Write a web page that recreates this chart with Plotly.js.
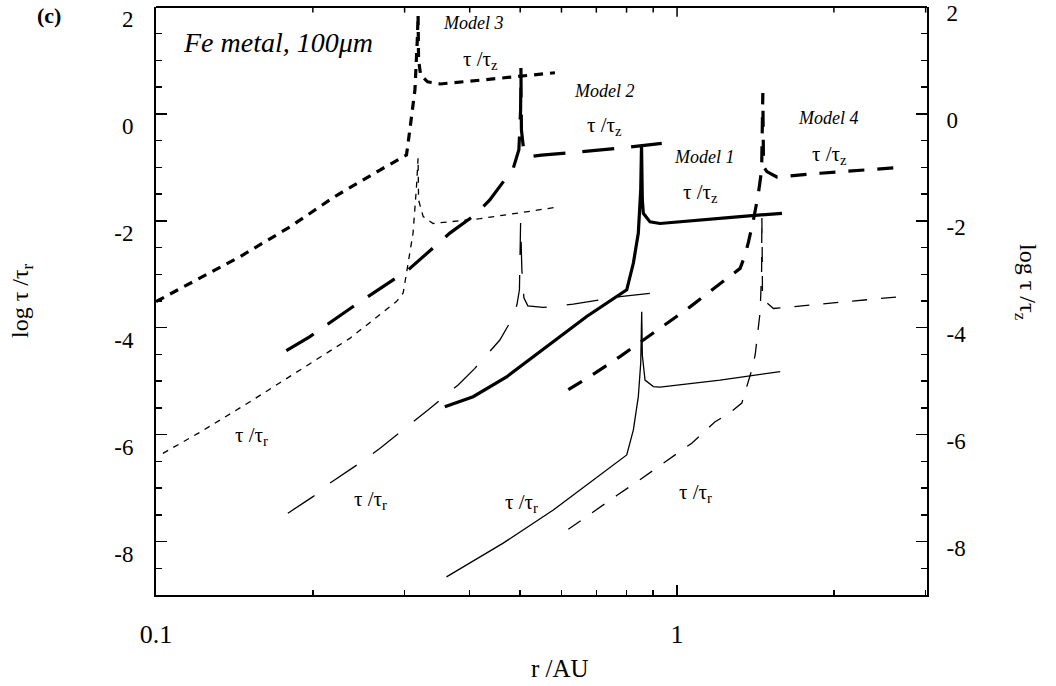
<!DOCTYPE html>
<html>
<head>
<meta charset="utf-8">
<script src="https://cdn.plot.ly/plotly-3.0.1.min.js"></script>
<style>
  html, body { margin: 0; padding: 0; background: #fff; }
  #chart { width: 1056px; height: 686px; }
</style>
</head>
<body>
<div id="chart"></div>
<script>
// Radial distance r (AU) and log τ/τ for each model.
// τ/τ_z curves are the heavy lines, τ/τ_r the thin ones.
const model3_z_r = [0.100, 0.145, 0.181, 0.220, 0.269, 0.3025, 0.307, 0.314, 0.3173, 0.3184, 0.3191, 0.322, 0.332, 0.351, 0.418, 0.499, 0.583];
const model3_z_v = [-3.51, -2.67, -2.11, -1.55, -1.05, -0.77, -0.30, 0.45, 1.38, 1.85, 1.01, 0.73, 0.60, 0.56, 0.63, 0.70, 0.77];

const model3_r_r = [0.1031, 0.1212, 0.1512, 0.1887, 0.2354, 0.2894, 0.2981, 0.3025, 0.3114, 0.3162, 0.3184, 0.3191, 0.3256, 0.3403, 0.4183, 0.4994, 0.5831];
const model3_r_v = [-6.35, -5.96, -5.39, -4.80, -4.20, -3.51, -3.35, -2.98, -2.23, -1.36, -0.83, -1.61, -1.92, -2.05, -1.96, -1.85, -1.75];

const model2_z_r = [0.1779, 0.1971, 0.2442, 0.3047, 0.3664, 0.4092, 0.4371, 0.4672, 0.4848, 0.4971, 0.5009, 0.5016, 0.5027, 0.5082, 0.5218, 0.5495, 0.6368, 0.7945, 0.9346];
const model2_z_v = [-4.43, -4.17, -3.54, -2.92, -2.23, -1.89, -1.61, -1.24, -1.02, -0.67, 0.08, 0.86, -0.30, -0.71, -0.80, -0.77, -0.72, -0.63, -0.55];

const model2_r_r = [0.1791, 0.2001, 0.2154, 0.2479, 0.2688, 0.3069, 0.3327, 0.3800, 0.4092, 0.4570, 0.4813, 0.4928, 0.4983, 0.5009, 0.5037, 0.5082, 0.5172, 0.5533, 0.6321, 0.7771, 0.9387];
const model2_r_v = [-7.47, -7.16, -6.91, -6.51, -6.26, -5.82, -5.54, -5.07, -4.76, -4.23, -3.85, -3.57, -3.29, -2.03, -2.92, -3.44, -3.59, -3.62, -3.56, -3.42, -3.33];

const model1_z_r = [0.3583, 0.4061, 0.4708, 0.5619, 0.6708, 0.8006, 0.8245, 0.8427, 0.8517, 0.8547, 0.8577, 0.8616, 0.8874, 0.9273, 1.107, 1.321, 1.590];
const model1_z_v = [-5.48, -5.29, -4.92, -4.35, -3.79, -3.29, -2.79, -2.23, -1.42, -0.58, -1.61, -1.86, -2.02, -2.05, -1.98, -1.92, -1.86];

const model1_r_r = [0.3610, 0.4638, 0.5787, 0.6906, 0.8006, 0.8245, 0.8427, 0.8517, 0.8554, 0.8577, 0.8680, 0.9006, 0.9274, 1.2097, 1.5775];
const model1_r_v = [-8.66, -8.03, -7.41, -6.85, -6.38, -5.91, -5.29, -4.66, -3.70, -4.51, -4.98, -5.10, -5.11, -4.98, -4.82];

const model4_z_r = [0.6185, 0.6959, 0.7771, 0.8554, 0.9555, 1.0592, 1.1923, 1.3213, 1.3508, 1.3709, 1.4016, 1.4309, 1.4532, 1.4609, 1.4643, 1.4663, 1.4871, 1.5542, 1.8829, 2.2468, 2.6817];
const model4_z_v = [-5.16, -4.85, -4.54, -4.26, -3.92, -3.61, -3.23, -2.89, -2.64, -2.40, -1.98, -1.52, -1.05, 0.39, -0.67, -0.99, -1.08, -1.18, -1.11, -1.06, -1.00];

const model4_r_r = [0.6185, 0.6906, 0.7658, 0.8554, 0.9624, 1.0671, 1.1830, 1.2643, 1.3313, 1.3568, 1.3915, 1.4123, 1.4439, 1.4532, 1.4547, 1.4567, 1.4587, 1.4762, 1.5311, 1.8829, 2.2468, 2.6737];
const model4_r_v = [-7.77, -7.44, -7.14, -6.82, -6.47, -6.16, -5.76, -5.59, -5.41, -5.16, -4.79, -4.51, -3.70, -2.92, -1.91, -2.55, -3.39, -3.51, -3.64, -3.56, -3.49, -3.42];

// Axis ticks
const xDecadeTicks = [0.1, 1];
const xDecadeLabels = ['0.1', '1'];
const xStepTicks = [0.2, 0.3, 0.4, 0.5, 0.6, 0.7, 0.8, 0.9, 2, 3];
const xTopStepTicks = [0.2, 0.3, 0.4, 0.5, 0.6, 0.7, 0.8, 0.9, 2, 3];
const xTopDecadeTicks = [1];
const yTicks = [2, 0, -2, -4, -6, -8];
const yLabels = ['2', '0', '-2', '-4', '-6', '-8'];
const Y_TOP = 2;

// Page geometry (pixels)
const L = 156, R = 129, T = 7, B = 91;
const W = 1056 - L - R, H = 686 - T - B;
const px = v => (v - L) / W;
const py = v => (T + H - v) / H;

const SERIF = 'Liberation Serif, Times New Roman, serif';
const HEAVY = 3.2, THIN = 1.3;
const X_RANGE = [-1, 0.4797];

function curve(r, v, width, dash) {
  return {
    x: r, y: v, type: 'scatter', mode: 'lines',
    line: { color: '#000', width: width, dash: dash },
    hoverinfo: 'skip', showlegend: false
  };
}

// Small tick marks hanging down from the top frame: vertical line markers
// centred on the frame, the half above it clipped away by the plot area.
function topTicks(vals, len) {
  return {
    x: vals, y: vals.map(() => Y_TOP), type: 'scatter', mode: 'markers', cliponaxis: true,
    marker: { symbol: 'line-ns', size: 2 * len, color: '#000', line: { color: '#000', width: 1.5 } },
    hoverinfo: 'skip', showlegend: false
  };
}

function anchorTrace(xa, ya) {
  return { x: [], y: [], xaxis: xa, yaxis: ya, type: 'scatter', mode: 'lines', showlegend: false, hoverinfo: 'skip' };
}

const traces = [
  curve(model3_z_r, model3_z_v, HEAVY, '9px,7px'),
  curve(model3_r_r, model3_r_v, THIN, '6px,6px'),
  curve(model2_z_r, model2_z_v, HEAVY, '32px,17px'),
  curve(model2_r_r, model2_r_v, THIN, '32px,20px'),
  curve(model1_z_r, model1_z_v, HEAVY, 'solid'),
  curve(model1_r_r, model1_r_v, THIN, 'solid'),
  curve(model4_z_r, model4_z_v, HEAVY, '16px,13px'),
  curve(model4_r_r, model4_r_v, THIN, '15px,14px'),
  topTicks(xTopStepTicks, 4),
  topTicks(xTopDecadeTicks, 7),
  anchorTrace('x2', 'y2')
];

function label(text, x, y, size, opts) {
  return Object.assign({
    text: text, xref: 'paper', yref: 'paper', x: px(x), y: py(y),
    xanchor: 'center', yanchor: 'middle', showarrow: false,
    font: { family: SERIF, size: size, color: '#000' }
  }, opts || {});
}

const tauZ = 'τ /τ<sub>z</sub>';
const tauR = 'τ /τ<sub>r</sub>';

const annotations = [
  label('<b>(c)</b>', 49, 16, 22),
  label('<i>Fe metal, 100μm</i>', 181, 43, 28, { xanchor: 'left' }),
  label('<i>Model 3</i>', 473, 23, 18),
  label(tauZ, 461, 60, 21, { xanchor: 'left' }),
  label('<i>Model 2</i>', 604, 91, 18),
  label(tauZ, 585, 126, 21, { xanchor: 'left' }),
  label('<i>Model 1</i>', 704, 157, 18),
  label(tauZ, 681, 193, 21, { xanchor: 'left' }),
  label('<i>Model 4</i>', 828, 118, 18),
  label(tauZ, 810, 155, 21, { xanchor: 'left' }),
  label(tauR, 233, 436, 21, { xanchor: 'left' }),
  label(tauR, 352, 500, 21, { xanchor: 'left' }),
  label(tauR, 503, 503, 21, { xanchor: 'left' }),
  label(tauR, 677, 493, 21, { xanchor: 'left' }),
  label('r /AU', 560, 668, 25),
  label('log τ /τ<sub>r</sub>', 22, 301, 24, { textangle: -90 }),
  label('log τ /τ<sub>z</sub>', 1026, 282, 24, { textangle: 90 })
];

const yCommon = {
  range: [-9, 2], autorange: false,
  tickvals: yTicks, ticktext: yLabels,
  ticks: 'inside', ticklen: 11, tickwidth: 1.5, tickcolor: '#000',
  minor: { dtick: 0.5, tick0: 0, ticks: 'inside', ticklen: 6, tickwidth: 1.5, tickcolor: '#000', showgrid: false },
  showline: true, linecolor: '#000', linewidth: 2,
  showgrid: false, zeroline: false,
  tickfont: { family: SERIF, size: 23, color: '#000' }
};

const layout = {
  width: 1056, height: 686,
  margin: { l: L, r: R, t: T, b: B, pad: 0 },
  paper_bgcolor: '#fff', plot_bgcolor: '#fff',
  showlegend: false,
  // bottom axis: labelled decades with longer ticks
  xaxis: {
    type: 'log', range: X_RANGE, autorange: false,
    tickvals: xDecadeTicks, ticktext: xDecadeLabels,
    ticks: 'inside', ticklen: 10, tickwidth: 1.5, tickcolor: '#000',
    showline: true, linecolor: '#000', linewidth: 2,
    showgrid: false, zeroline: false,
    tickfont: { family: SERIF, size: 26, color: '#000' },
    ticklabelstandoff: 15
  },
  // bottom axis: short ticks between the decades
  xaxis2: {
    type: 'log', range: X_RANGE, autorange: false, overlaying: 'x', anchor: 'y2', side: 'bottom',
    tickvals: xStepTicks, showticklabels: false,
    ticks: 'inside', ticklen: 5, tickwidth: 1.5, tickcolor: '#000',
    showline: false, showgrid: false, zeroline: false
  },
  yaxis: Object.assign({}, yCommon, { side: 'left', ticklabelstandoff: 16, ticklabelshift: 12 }),
  yaxis2: Object.assign({}, yCommon, { side: 'right', overlaying: 'y', anchor: 'x', ticklabelstandoff: 13, ticklabelshift: 6 }),
  shapes: [
    // top edge of the frame
    { type: 'line', xref: 'paper', yref: 'paper', x0: 0, x1: 1, y0: 1, y1: 1, line: { color: '#000', width: 2 } }
  ],
  annotations: annotations
};

Plotly.newPlot('chart', traces, layout, { staticPlot: true, displayModeBar: false });
</script>
</body>
</html>
